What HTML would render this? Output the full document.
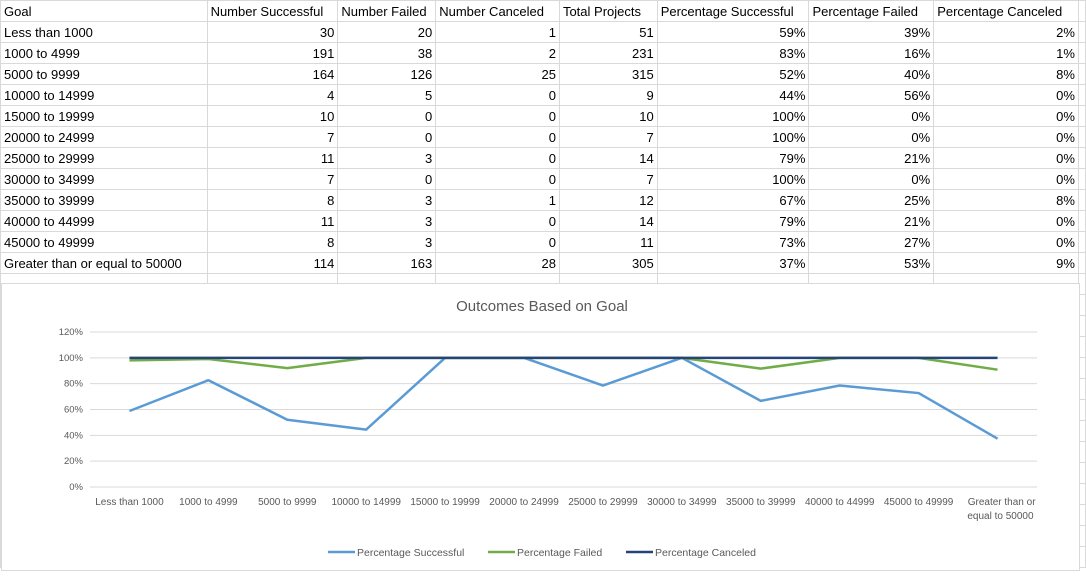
<!DOCTYPE html>
<html><head><meta charset="utf-8"><style>
body{margin:0;width:1086px;height:578px;overflow:hidden;background:#fff;font-family:"Liberation Sans",sans-serif;position:relative}
table{border-collapse:collapse;position:absolute;left:0;top:0;table-layout:fixed}
td{border:1px solid #d9d9d9;height:20px;padding:0 3px;font-size:13px;color:#000;white-space:nowrap;overflow:hidden}
td.n{text-align:right}
#chart{position:absolute;left:1px;top:283px;width:1079px;height:288px;background:#fff;border:1px solid #d9d9d9;box-sizing:border-box}
</style></head><body>
<table>
<colgroup><col style="width:207px"><col style="width:131px"><col style="width:98px"><col style="width:124px"><col style="width:98px"><col style="width:152px"><col style="width:125px"><col style="width:145px"><col style="width:6px"></colgroup>
<tbody id="tb"></tbody></table>
<div id="chart"><svg id="svg" width="1079" height="288"></svg></div>
<script>
const cats=["Less than 1000","1000 to 4999","5000 to 9999","10000 to 14999","15000 to 19999","20000 to 24999","25000 to 29999","30000 to 34999","35000 to 39999","40000 to 44999","45000 to 49999","Greater than or equal to 50000"];
const nSucc=[30,191,164,4,10,7,11,7,8,11,8,114];
const nFail=[20,38,126,5,0,0,3,0,3,3,3,163];
const nCanc=[1,2,25,0,0,0,0,0,1,0,0,28];
const yTicks=[0,20,40,60,80,100,120];
const heads=["Goal","Number Successful","Number Failed","Number Canceled","Total Projects","Percentage Successful","Percentage Failed","Percentage Canceled",""];
const tot=nSucc.map((v,i)=>v+nFail[i]+nCanc[i]);
const pSucc=nSucc.map((v,i)=>v/tot[i]*100);
const pFail=nFail.map((v,i)=>v/tot[i]*100);
const pCanc=nCanc.map((v,i)=>v/tot[i]*100);
const tb=document.getElementById('tb');
let h='<tr>'+heads.map(x=>'<td>'+x+'</td>').join('')+'</tr>';
cats.forEach((c,i)=>{h+='<tr><td>'+c+'</td><td class="n">'+nSucc[i]+'</td><td class="n">'+nFail[i]+'</td><td class="n">'+nCanc[i]+'</td><td class="n">'+tot[i]+'</td><td class="n">'+Math.round(pSucc[i])+'%</td><td class="n">'+Math.round(pFail[i])+'%</td><td class="n">'+Math.round(pCanc[i])+'%</td><td></td></tr>';});
for(let r=0;r<14;r++)h+='<tr>'+heads.map(()=>'<td></td>').join('')+'</tr>';
tb.innerHTML=h;
const svg=document.getElementById('svg');const NS='http://www.w3.org/2000/svg';
const ox=1,oy=283;
const x0=89-ox,x1=1036-ox,step=(x1-x0)/cats.length;
const X=i=>x0+step*(i+0.5);
const Y=v=>(486-oy)-v*(155/120);
function el(t,a,txt){const e=document.createElementNS(NS,t);for(const k in a)e.setAttribute(k,a[k]);if(txt!=null)e.textContent=txt;svg.appendChild(e);return e;}
const tt=el('text',{x:540,y:27,'font-size':15,fill:'#595959','text-anchor':'middle'},'Outcomes Based on Goal');

yTicks.forEach(v=>{const g=el('line',{x1:x0,x2:x1,y1:Y(v),y2:Y(v),stroke:'#d9d9d9','stroke-width':1});

const t=el('text',{x:x0-7,y:Y(v)+3,'font-size':9.5,fill:'#595959','text-anchor':'end'},v+'%');
});
cats.forEach((c,i)=>{
 if(c.length>20){const a=el('text',{x:X(i)+38,y:Y(0)+18,'font-size':10,fill:'#595959','text-anchor':'end'},'Greater than or');
 const b=el('text',{x:X(i)+36,y:Y(0)+32,'font-size':10,fill:'#595959','text-anchor':'end'},'equal to 50000');}
 else{const t=el('text',{x:X(i),y:Y(0)+18,'font-size':10,fill:'#595959','text-anchor':'middle'},c);}
});
const s1=pSucc, s2=pSucc.map((v,i)=>v+pFail[i]), s3=pSucc.map((v,i)=>v+pFail[i]+pCanc[i]);
const series=[[s1,'#5b9bd5','line-percentage-successful'],[s2,'#70ad47','line-percentage-failed'],[s3,'#264478','line-percentage-canceled']];
series.forEach(([d,c,n])=>{const p=el('polyline',{points:d.map((v,i)=>X(i)+','+Y(v)).join(' '),fill:'none',stroke:c,'stroke-width':2.5,'stroke-linejoin':'round'});
});
const leg=[['Percentage Successful','#5b9bd5',327],['Percentage Failed','#70ad47',487],['Percentage Canceled','#264478',625]];
leg.forEach(([t,c,x])=>{const l=el('line',{x1:x-ox,x2:x-ox+27,y1:551-oy,y2:551-oy,stroke:c,'stroke-width':2.5});

const tx=el('text',{x:x-ox+29,y:555-oy,'font-size':10.5,fill:'#595959'},t);
});
</script></body></html>
